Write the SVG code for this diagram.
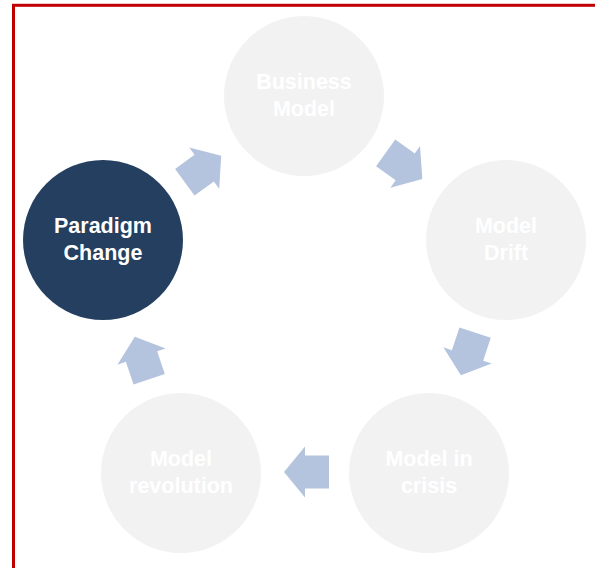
<svg xmlns="http://www.w3.org/2000/svg" width="595" height="568" viewBox="0 0 595 568">
<style>
.c{fill:#f2f2f2}
.d{fill:#243f60}
.t{font-family:"Liberation Sans",Arial,sans-serif;font-weight:bold;font-size:21.5px;fill:#ffffff;text-anchor:middle}
.a{fill:#b4c4df}
</style>
<defs>
<path id="arr" d="M-22.5,-16.5 L1.5,-16.5 L1.5,-25.5 L22.5,0 L1.5,25.5 L1.5,16.5 L-22.5,16.5 Z"/>
</defs>
<rect x="0" y="0" width="595" height="568" fill="#ffffff"/>
<rect x="13.5" y="5.3" width="620" height="620" fill="none" stroke="#c00000" stroke-width="3"/>
<g id="connectors" class="a">
<use href="#arr" transform="translate(203,169) rotate(-36)"/>
<use href="#arr" transform="translate(404,166) rotate(35.5)"/>
<use href="#arr" transform="translate(468,354) rotate(108.4)"/>
<use href="#arr" transform="translate(306.5,472) rotate(180)"/>
<use href="#arr" transform="translate(142,358) rotate(251.4)"/>
</g>
<g id="business-model">
<circle class="c" cx="304" cy="96" r="80"/>
<text class="t" x="304" y="89">Business</text>
<text class="t" x="304" y="116">Model</text>
</g>
<g id="model-drift">
<circle class="c" cx="506" cy="240" r="80"/>
<text class="t" x="506" y="233">Model</text>
<text class="t" x="506" y="260">Drift</text>
</g>
<g id="model-in-crisis">
<circle class="c" cx="429" cy="473" r="80"/>
<text class="t" x="429" y="466">Model in</text>
<text class="t" x="429" y="493">crisis</text>
</g>
<g id="model-revolution">
<circle class="c" cx="181" cy="473" r="80"/>
<text class="t" x="181" y="466">Model</text>
<text class="t" x="181" y="493">revolution</text>
</g>
<g id="paradigm-change">
<circle class="d" cx="103" cy="240" r="80"/>
<text class="t" x="103" y="233">Paradigm</text>
<text class="t" x="103" y="260">Change</text>
</g>
</svg>
